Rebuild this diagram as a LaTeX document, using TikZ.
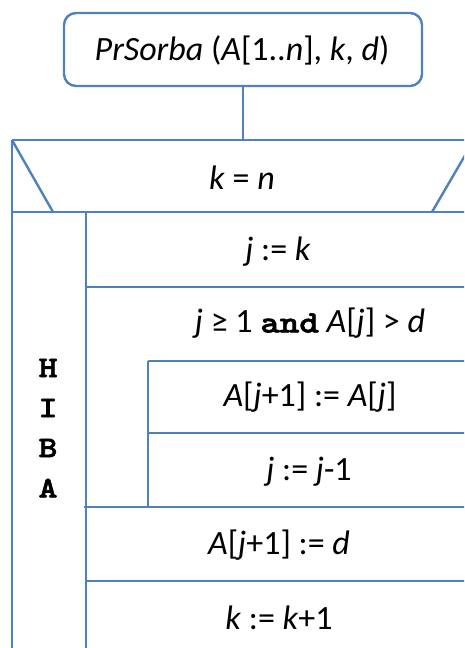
\documentclass[tikz,border=0pt]{standalone}
\usepackage{fontspec}
\setmainfont{Carlito}
\newfontfamily\codefont{lmmonolt10-bold}[Extension=.otf, FakeBold=2, FakeStretch=1.2]
\definecolor{nsblue}{RGB}{79,129,189}

\tikzset{
  nsline/.style={draw=nsblue, line width=2.4pt},
  stmt/.style={font=\fontsize{34}{38}\selectfont, inner sep=0pt},
  hiba/.style={font=\codefont\fontsize{30}{32}\selectfont, inner sep=0pt}
}
\newcommand{\vv}[1]{\textit{#1}}

\begin{document}
\begin{tikzpicture}[x=1pt, y=-1pt]

  \useasboundingbox (0,0) rectangle (464,648);
  \clip (0,0) rectangle (464,648);

  % Fejlec
  \node[nsline, rounded corners=12pt, minimum width=358pt, minimum height=73pt,
        inner sep=0pt] (start) at (243,49.5) {};
  \node[stmt] (starttxt) at (242,50) {\vv{PrSorba} (\vv{A}[1..\vv{n}], \vv{k}, \vv{d})};

  % Ciklusfej
  \coordinate (head) at (243,140);
  \draw[nsline] (start.south) -- (head);
  \draw[nsline] (12,140) -- (480,140);
  \draw[nsline] (12,140) -- (53,212);
  \draw[nsline] (432,212) -- (474,140);
  \draw[nsline] (12,212) -- (480,212);
  \node[stmt] (cond) at (242,178) {\vv{k} = \vv{n}};

  % Fuggoleges vonalak
  \draw[nsline] (12,140) -- (12,660);
  \draw[nsline] (86,212) -- (86,660);
  \draw[nsline] (148,361) -- (148,507);

  % Vizszintes vonalak
  \draw[nsline] (86,287) -- (480,287);
  \draw[nsline] (148,361) -- (480,361);
  \draw[nsline] (148,433) -- (480,433);
  \draw[nsline] (84,507) -- (480,507);
  \draw[nsline] (86,581) -- (480,581);

  % Utasitasok
  \node[stmt] (s1) at (278,252) {\vv{j} := \vv{k}};
  \node[stmt] (loop) at (310,323) {\vv{j} ≥ 1 {\codefont\fontsize{31}{34}\selectfont and} \vv{A}[\vv{j}] > \vv{d}};
  \node[stmt] (s2) at (310,397) {\vv{A}[\vv{j}+1] := \vv{A}[\vv{j}]};
  \node[stmt] (s3) at (309,472) {\vv{j} := \vv{j}-1};
  \node[stmt] (s4) at (279,545) {\vv{A}[\vv{j}+1] := \vv{d}};
  \node[stmt] (s5) at (279,618) {\vv{k} := \vv{k}+1};

  % HIBA
  \node[hiba] (h1) at (48,368) {H};
  \node[hiba] (h2) at (48,408) {I};
  \node[hiba] (h3) at (48,448) {B};
  \node[hiba] (h4) at (48,488) {A};

\end{tikzpicture}
\end{document}
